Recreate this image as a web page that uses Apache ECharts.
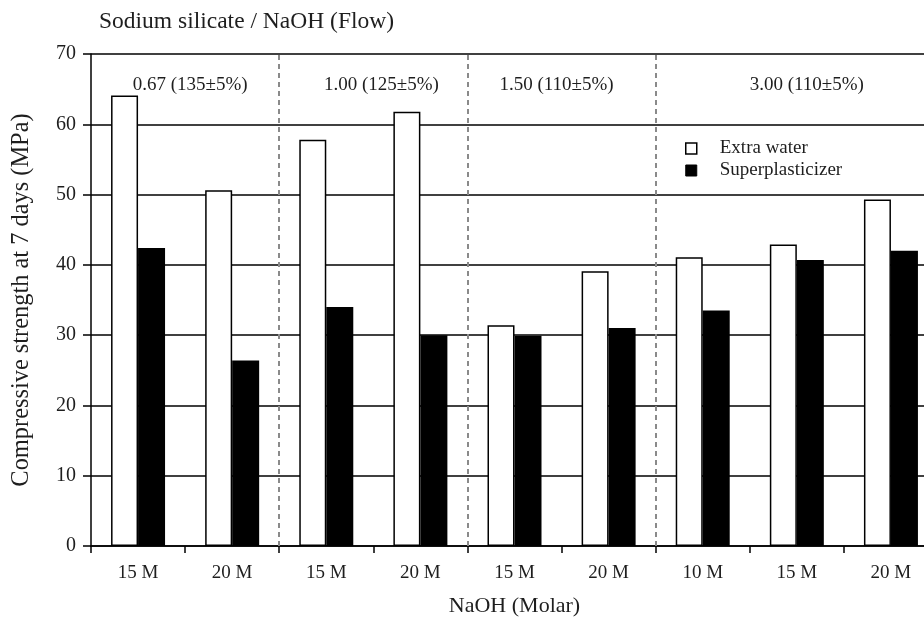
<!DOCTYPE html>
<html>
<head>
<meta charset="utf-8">
<script src="https://cdn.jsdelivr.net/npm/echarts@6/dist/echarts.min.js"></script>
<style>
  html, body { margin: 0; padding: 0; background: #fff; }
  #chart { width: 924px; height: 621px; }
</style>
</head>
<body>
<div id="chart"></div>
<script>
// NaOH molarity per bar pair
const categories = ['15 M', '20 M', '15 M', '20 M', '15 M', '20 M', '10 M', '15 M', '20 M'];
// 7-day compressive strength (MPa)
const extraWater = [64.1, 50.6, 57.8, 61.8, 31.4, 39.1, 41.1, 42.9, 49.3];
const superplasticizer = [42.4, 26.4, 34.0, 30.0, 29.9, 31.0, 33.5, 40.7, 42.0];
// Sodium silicate / NaOH ratio groups (flow) and the category ranges they cover
const groupLabels = ['0.67 (135\u00b15%)', '1.00 (125\u00b15%)', '1.50 (110\u00b15%)', '3.00 (110\u00b15%)'];
const groupSpans = [[0, 2], [2, 4], [4, 6], [6, 9]];
const yTicks = [0, 10, 20, 30, 40, 50, 60, 70];

const FONT = '"Liberation Serif", "Times New Roman", serif';
const INK = '#1e1e1e';
const labelShift = [[5, 0], [8, 0], [-5, 0], [10, 0]];

const chart = echarts.init(document.getElementById('chart'), null, { renderer: 'canvas' });

const boundaries = groupSpans.slice(0, -1).map(s => s[1]);

chart.setOption({
  animation: false,
  backgroundColor: '#fff',
  textStyle: { fontFamily: FONT, color: INK },
  title: {
    text: 'Sodium silicate / NaOH (Flow)',
    left: 99,
    top: 10,
    padding: 0,
    textStyle: { fontFamily: FONT, fontSize: 23.5, fontWeight: 'normal', color: INK }
  },
  legend: {
    data: [
      { name: 'Extra water', itemStyle: { color: '#fff', borderColor: '#000', borderWidth: 1.5 } },
      { name: 'Superplasticizer', itemStyle: { color: '#000', borderColor: '#000', borderWidth: 1 } }
    ],
    orient: 'vertical',
    left: 685,
    top: 139,
    padding: 0,
    icon: 'rect',
    itemWidth: 11,
    itemHeight: 11,
    itemGap: 3,
    textStyle: { fontFamily: FONT, fontSize: 19, color: INK, padding: [0, 0, 0, 18] }
  },
  // the plot runs on past the right edge of the canvas
  grid: { left: 91, top: 54, right: -14, height: 492, containLabel: false, outerBoundsMode: 'none' },
  xAxis: [
    {
      type: 'category',
      data: categories,
      boundaryGap: true,
      name: 'NaOH (Molar)',
      nameLocation: 'middle',
      nameGap: 49,
      nameTextStyle: { fontFamily: FONT, fontSize: 22, color: INK },
      axisLine: { lineStyle: { color: '#000', width: 1.5 } },
      axisTick: { show: true, length: 7, lineStyle: { color: '#000', width: 1.5 } },
      axisLabel: { fontFamily: FONT, fontSize: 19, color: INK, margin: 18, interval: 0 },
      splitLine: { show: false }
    },
    {
      // helper axis spanning the same width, used to place group dividers and labels
      type: 'value',
      min: 0,
      max: categories.length,
      show: false,
      position: 'bottom'
    }
  ],
  yAxis: {
    type: 'value',
    min: yTicks[0],
    max: yTicks[yTicks.length - 1],
    interval: 10,
    name: 'Compressive strength at 7 days (MPa)',
    nameLocation: 'middle',
    nameGap: 57,
    nameTextStyle: { fontFamily: FONT, fontSize: 24.4, color: INK },
    axisLine: { show: true, lineStyle: { color: '#000', width: 1.5 } },
    axisTick: { show: true, length: 8, lineStyle: { color: '#000', width: 1.5 } },
    axisLabel: { fontFamily: FONT, fontSize: 20, color: INK, margin: 15 },
    splitLine: { show: true, lineStyle: { color: '#000', width: 1.5 } }
  },
  series: [
    {
      name: 'Extra water',
      type: 'bar',
      data: extraWater,
      barWidth: 27,
      barGap: '0%',
      itemStyle: { color: '#fff', borderColor: '#000', borderWidth: 1.5 },
      z: 3
    },
    {
      name: 'Superplasticizer',
      type: 'bar',
      data: superplasticizer,
      barWidth: 27,
      barGap: '0%',
      itemStyle: { color: '#000' },
      z: 3
    },
    {
      name: 'groups',
      type: 'scatter',
      xAxisIndex: 1,
      yAxisIndex: 0,
      data: [],
      silent: true,
      markLine: {
        silent: true,
        symbol: 'none',
        label: { show: false },
        lineStyle: { color: '#8a8a8a', type: [5, 4], width: 2 },
        data: boundaries.map(b => ({ xAxis: b }))
      },
      markArea: {
        silent: true,
        itemStyle: { color: 'rgba(0,0,0,0)' },
        label: {
          show: true,
          position: 'insideTop',
          distance: 22,
          fontFamily: FONT,
          fontSize: 19,
          color: INK
        },
        data: groupSpans.map((s, i) => [
          { name: groupLabels[i], xAxis: s[0], yAxis: yTicks[yTicks.length - 1], label: { offset: labelShift[i] } },
          { xAxis: s[1], yAxis: yTicks[0] }
        ])
      }
    }
  ]
});
</script>
</body>
</html>
